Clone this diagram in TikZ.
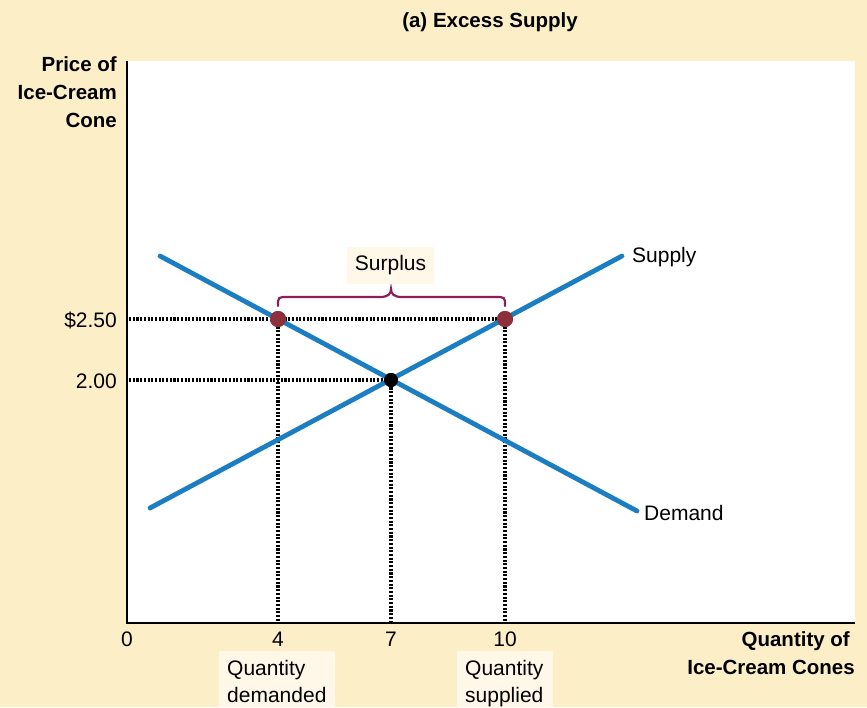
\documentclass[tikz,border=0pt]{standalone}
\usepackage{fontspec}
\setmainfont{Liberation Sans}
\definecolor{bgcream}{HTML}{FCEFC8}
\definecolor{boxcream}{HTML}{FFF7E8}
\definecolor{curveblue}{HTML}{1C7EC2}
\definecolor{ptred}{HTML}{8E2F3C}
\definecolor{bracepurple}{HTML}{8A1F5C}
\begin{document}
\begin{tikzpicture}[x=1pt,y=-1pt,
  reg/.style={font=\fontsize{21}{27}\selectfont, inner sep=0pt},
  bld/.style={font=\fontsize{20.5}{27}\selectfont\bfseries, inner sep=0pt},
  dots/.style={line width=3.4pt, dash pattern=on 2.1pt off 1.6pt, black},
  curve/.style={line width=4.8pt, curveblue, line cap=round},
  rdot/.style={circle, fill=ptred, minimum size=16pt, inner sep=0pt},
  bdot/.style={circle, fill=black, minimum size=14pt, inner sep=0pt},
  axis/.style={line width=1.4pt, black},
  lblbox/.style={fill=boxcream, inner sep=0pt, font=\fontsize{21}{27}\selectfont, align=left}
]
\useasboundingbox (0,0) rectangle (867,707);
\fill[bgcream] (0,0) rectangle (867,707);
\fill[white] (127,61) rectangle (855,623);

% title
\node[bld, anchor=base] (title) at (490,27) {(a) Excess Supply};

% y-axis label
\node[bld, anchor=base east] (yl1) at (117,71) {Price of};
\node[bld, anchor=base east] (yl2) at (117,99) {Ice-Cream};
\node[bld, anchor=base east] (yl3) at (117,127) {Cone};

% x-axis label
\node[bld, anchor=base east] (xl1) at (850,646) {Quantity of};
\node[bld, anchor=base east] (xl2) at (855,674) {Ice-Cream Cones};

% coordinates
\coordinate (origin) at (127,623);
\coordinate (ytop) at (127,61);
\coordinate (xend) at (855,623);
\coordinate (y25) at (129,319);
\coordinate (y20) at (129,380);
\coordinate (x4) at (278,622);
\coordinate (x7) at (391,622);
\coordinate (x10) at (505,622);
\coordinate (s0) at (150,508);
\coordinate (s1) at (622,256);
\coordinate (d0) at (160,256);
\coordinate (d1) at (637,511);

% points
\node[rdot] (qd) at (278,319) {};
\node[rdot] (qs) at (505,319) {};
\node[bdot] (eq) at (391,380) {};

% dotted guides
\draw[dots] (y25) -- (qs.center);
\draw[dots] (y20) -- (eq.center);
\draw[dots] (qd.center) -- (x4);
\draw[dots] (eq.center) -- (x7);
\draw[dots] (qs.center) -- (x10);

% curves
\draw[curve] (s0) -- (s1);
\draw[curve] (d0) -- (d1);

% redraw points on top
\node[rdot] at (qd) {};
\node[rdot] at (qs) {};
\node[bdot] at (eq) {};

% brace
\draw[bracepurple, line width=2.2pt, line cap=round]
  (278,306) .. controls (278,297) .. (288,297) -- (380,297)
  .. controls (388,297) and (391,294) .. (391,289)
  .. controls (391,294) and (394,297) .. (402,297) -- (495,297)
  .. controls (505,297) .. (505,306);

% surplus box
\node[lblbox, minimum width=87pt, minimum height=37pt, align=center] (surplus) at (390.5,265.5) {Surplus};

% curve labels
\node[reg, anchor=base west] (supl) at (632,262) {Supply};
\node[reg, anchor=base west] (deml) at (644,520) {Demand};

% axes
\draw[axis] (ytop) -- (origin) -- (xend);

% tick labels
\node[reg, anchor=base east] (p25) at (117,327) {\$2.50};
\node[reg, anchor=base east] (p20) at (117,388) {2.00};
\node[reg, anchor=base] (t0) at (127,646) {0};
\node[reg, anchor=base] (t4) at (278,646) {4};
\node[reg, anchor=base] (t7) at (391,646) {7};
\node[reg, anchor=base] (t10) at (505,646) {10};

% quantity boxes
\fill[boxcream] (219,651) rectangle (335,707);
\node[reg, anchor=base west, align=left] (qdl) at (227,702) {Quantity\\demanded};
\fill[boxcream] (457,651) rectangle (553,707);
\node[reg, anchor=base west, align=left] (qsl) at (465,702) {Quantity\\supplied};
\end{tikzpicture}
\end{document}
